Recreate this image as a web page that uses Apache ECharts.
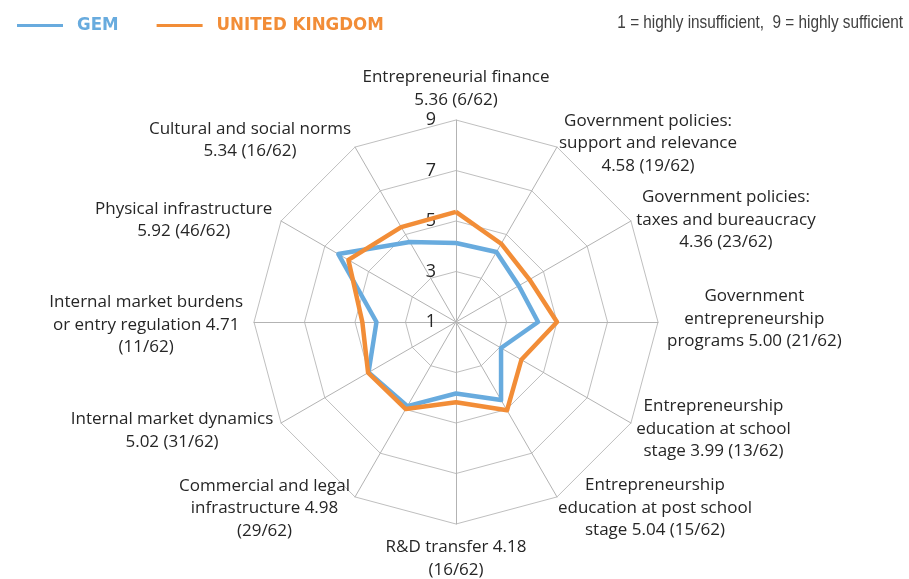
<!DOCTYPE html>
<html>
<head>
<meta charset="utf-8">
<script src="https://cdn.jsdelivr.net/npm/echarts@6/dist/echarts.min.js"></script>
<style>
html,body{margin:0;padding:0;background:#fff;}
#chart{width:909px;height:579px;}
</style>
</head>
<body>
<div id="chart"></div>
<script>
// Categories in clockwise order starting at the top
const categories = [
  'Entrepreneurial finance\n5.36 (6/62)',
  'Government policies:\nsupport and relevance\n4.58 (19/62)',
  'Government policies:\ntaxes and bureaucracy\n4.36 (23/62)',
  'Government\nentrepreneurship\nprograms 5.00 (21/62)',
  'Entrepreneurship\neducation at school\nstage 3.99 (13/62)',
  'Entrepreneurship\neducation at post school\nstage 5.04 (15/62)',
  'R&D transfer 4.18\n(16/62)',
  'Commercial and legal\ninfrastructure 4.98\n(29/62)',
  'Internal market dynamics\n5.02 (31/62)',
  'Internal market burdens\nor entry regulation 4.71\n(11/62)',
  'Physical infrastructure\n5.92 (46/62)',
  'Cultural and social norms\n5.34 (16/62)'
];
const gemValues = [4.13, 4.20, 3.87, 4.25, 3.06, 4.57, 3.83, 4.85, 5.00, 4.15, 6.38, 4.66];
const ukValues  = [5.36, 4.58, 4.36, 5.00, 3.99, 5.04, 4.18, 4.98, 5.02, 4.71, 5.92, 5.34];
const seriesNames = ['GEM', 'UNITED KINGDOM'];
const scaleMin = 1, scaleMax = 9;
const scaleNote = '1 = highly insufficient,  9 = highly sufficient';

// label layout tweaks (styling only)
const nameGaps = [8, 4, 6, 9, 6, 2, 12, 10, 9, 11, 10, 8];
const namePads = {2: [4,0,0,0], 3: [0,0,6,0], 4: [6,0,0,0], 5: [18,0,0,0], 7: [6,0,0,0], 8: [6,0,0,0], 9: [6,0,0,0], 10: [8,0,0,0]};

const BLUE = '#68ABDE', ORANGE = '#F28D37';
const CONDENSED = '"DejaVu Sans Condensed", "Liberation Sans Narrow", sans-serif';

// ECharts places indicators counter-clockwise; map clockwise arrays
const order = [0].concat(categories.map((_, i) => i).slice(1).reverse());

const indicators = order.map(i => {
  const ind = { name: categories[i], min: scaleMin, max: scaleMax, nameGap: nameGaps[i] };
  if (namePads[i]) ind.nameTextStyle = { padding: namePads[i] };
  if (i === 0) ind.axisLabel = { show: true };
  return ind;
});

const chart = echarts.init(document.getElementById('chart'));
chart.setOption({
  backgroundColor: '#fff',
  animation: false,
  graphic: [{
    type: 'text',
    x: 903, y: 23,
    scaleX: 0.82,
    style: {
      text: scaleNote,
      font: '18.7px "Liberation Sans", Arial, sans-serif',
      fill: '#404040',
      textAlign: 'right',
      textVerticalAlign: 'middle'
    }
  }],
  legend: {
    top: 11, left: 12,
    icon: 'rect', itemWidth: 46, itemHeight: 3, itemGap: 38,
    textStyle: { fontFamily: CONDENSED, fontWeight: 'bold', fontSize: 18.5, padding: [0,0,0,9] },
    data: [
      { name: seriesNames[0], textStyle: { color: BLUE } },
      { name: seriesNames[1], textStyle: { color: ORANGE } }
    ]
  },
  radar: {
    center: [456, 322],
    radius: 202,
    startAngle: 90,
    shape: 'polygon',
    splitNumber: 4,
    indicator: indicators,
    axisName: {
      color: '#262626',
      fontFamily: 'Open Sans',
      fontSize: 17,
      lineHeight: 22.5,
      formatter: v => v.split('\n').map(s => '{c|' + s + '}').join('\n'),
      rich: { c: { align: 'center', fontFamily: 'Open Sans', fontSize: 17, lineHeight: 22.5, color: '#262626' } }
    },
    axisLine: { show: true, lineStyle: { color: '#B3B3B3', width: 1 } },
    splitLine: { show: true, lineStyle: { color: '#BFBFBF', width: 1 } },
    splitArea: { show: false },
    axisTick: { show: false },
    axisLabel: { show: false, fontFamily: 'Open Sans', fontSize: 18, color: '#262626', margin: 20 }
  },
  series: [{
    type: 'radar',
    symbol: 'none',
    data: [
      { name: seriesNames[0], value: order.map(i => gemValues[i]),
        lineStyle: { color: BLUE, width: 4.5 }, itemStyle: { color: BLUE } },
      { name: seriesNames[1], value: order.map(i => ukValues[i]),
        lineStyle: { color: ORANGE, width: 4.5 }, itemStyle: { color: ORANGE } }
    ]
  }]
});
</script>
</body>
</html>
